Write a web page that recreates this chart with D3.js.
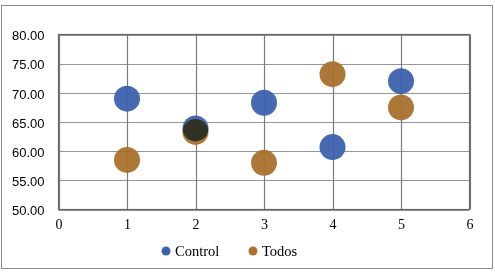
<!DOCTYPE html>
<html><head><meta charset="utf-8">
<script src="https://cdn.jsdelivr.net/npm/d3@7"></script>
<style>body{margin:0;background:#fff}svg{display:block}</style>
</head><body>
<script>
const xValues = [1, 2, 3, 4, 5];
const controlValues = [69.0, 63.9, 68.3, 60.7, 72.0];
const todosValues = [58.5, 63.3, 58.0, 73.2, 67.5];
const seriesNames = ["Control", "Todos"];
const seriesColors = ["#3d61ad", "#a8702c"];
const xTicks = [0, 1, 2, 3, 4, 5, 6];
const yTicks = [50, 55, 60, 65, 70, 75, 80];

const W = 495, H = 272;
const svg = d3.select("body").append("svg").attr("width", W).attr("height", H);
svg.append("rect").attr("x", 1.5).attr("y", 5.5).attr("width", 491).attr("height", 263)
  .attr("fill", "#fff").attr("stroke", "#8a8a8a");

const x = d3.scaleLinear().domain([0, 6]).range([58.5, 469.5]);
const y = d3.scaleLinear().domain([50, 80]).range([209.5, 34.5]);

const g = svg.append("g");
g.selectAll(".hg").data(yTicks).join("line")
  .attr("x1", x(0)).attr("x2", x(6)).attr("y1", d => Math.round(y(d)) + 0.5).attr("y2", d => Math.round(y(d)) + 0.5)
  .attr("stroke", "#959595").attr("stroke-width", 1.2);
g.selectAll(".vg").data(xTicks).join("line")
  .attr("y1", y(80)).attr("y2", y(50)).attr("x1", d => Math.round(x(d)) + 0.5).attr("x2", d => Math.round(x(d)) + 0.5)
  .attr("stroke", "#7a7a7a").attr("stroke-width", 1.2);
g.append("rect").attr("x", x(0)).attr("y", y(80)).attr("width", x(6) - x(0)).attr("height", y(50) - y(80))
  .attr("fill", "none").attr("stroke", "#666").attr("stroke-width", 1.2);

const yAxis = d3.axisLeft(y).tickValues(yTicks).tickFormat(d3.format(".2f")).tickSize(0).tickPadding(14);
const ya = svg.append("g").attr("transform", `translate(${x(0)},1)`).call(yAxis);
ya.select(".domain").remove();
ya.selectAll("text").attr("font-family", "Liberation Sans, Arial, sans-serif").attr("font-size", 13).attr("fill", "#000");

const xAxis = d3.axisBottom(x).tickValues(xTicks).tickFormat(d3.format("d")).tickSize(0).tickPadding(10);
const xa = svg.append("g").attr("transform", `translate(0,${y(50)})`).call(xAxis);
xa.select(".domain").remove();
xa.selectAll("text").attr("font-family", "Liberation Serif, Times New Roman, serif").attr("font-size", 14).attr("fill", "#000");

const pts = g.append("g").style("isolation", "isolate");
const series = [todosValues, controlValues];
const colorsFor = [seriesColors[1], seriesColors[0]];
series.forEach((vals, si) => {
  pts.selectAll(".s" + si).data(vals).join("circle")
    .attr("cx", (d, i) => x(xValues[i])).attr("cy", d => y(d)).attr("r", 13)
    .attr("fill", colorsFor[si]).attr("opacity", 0.95)
    .style("mix-blend-mode", "multiply");
});

const leg = svg.append("g").attr("font-family", "Liberation Serif, Times New Roman, serif").attr("font-size", 14.5);
const legX = [166, 253];
seriesNames.forEach((n, i) => {
  leg.append("circle").attr("cx", legX[i]).attr("cy", 251).attr("r", 4.5).attr("fill", seriesColors[i]);
  leg.append("text").attr("x", legX[i] + 9).attr("y", 255.5).text(n).attr("fill", "#000");
});
</script>
</body></html>
